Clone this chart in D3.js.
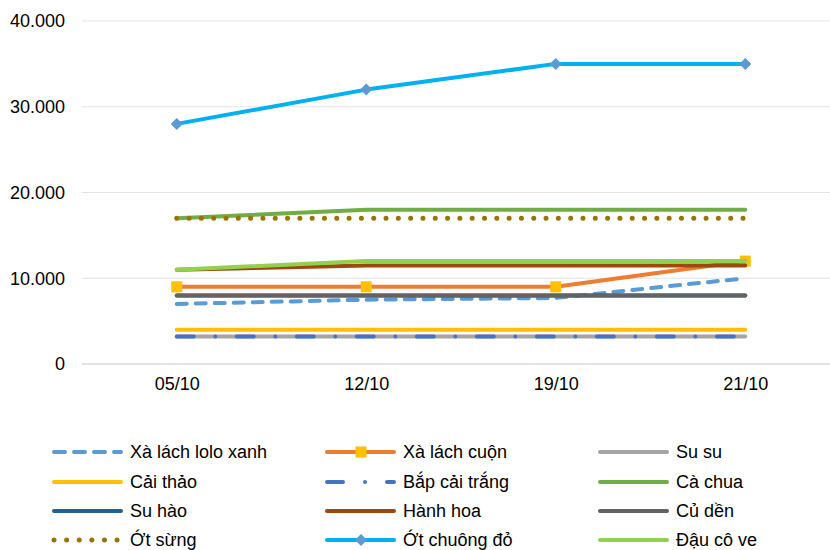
<!DOCTYPE html>
<html>
<head>
<meta charset="utf-8">
<script src="https://cdn.jsdelivr.net/npm/d3@7"></script>
<style>
  html, body { margin: 0; padding: 0; background: #fff; }
  svg { display: block; font-family: "Liberation Sans", Arial, sans-serif; }
</style>
</head>
<body>
<svg id="chart" width="830" height="550"></svg>
<script>
const categories = ["05/10", "12/10", "19/10", "21/10"];
const yTicks = [0, 10000, 20000, 30000, 40000];

const seriesNames = [
  "Xà lách lolo xanh", "Xà lách cuộn", "Su su",
  "Cải thảo", "Bắp cải trắng", "Cà chua",
  "Su hào", "Hành hoa", "Củ dền",
  "Ớt sừng", "Ớt chuông đỏ", "Đậu cô ve"
];
const xaLachLolo   = [7000, 7500, 7700, 10000];
const xaLachCuon   = [9000, 9000, 9000, 12000];
const suSu         = [3200, 3200, 3200, 3200];
const caiThao      = [4000, 4000, 4000, 4000];
const bapCaiTrang  = [3200, 3200, 3200, 3200];
const caChua       = [17000, 18000, 18000, 18000];
const suHao        = [8000, 8000, 8000, 8000];
const hanhHoa      = [11000, 11500, 11500, 11500];
const cuDen        = [8000, 8000, 8000, 8000];
const otSung       = [17000, 17000, 17000, 17000];
const otChuongDo   = [28000, 32000, 35000, 35000];
const dauCoVe      = [11000, 12000, 12000, 12000];

const seriesValues = [xaLachLolo, xaLachCuon, suSu, caiThao, bapCaiTrang, caChua,
                      suHao, hanhHoa, cuDen, otSung, otChuongDo, dauCoVe];

const styles = [
  {color: "#5B9BD5", width: 4, dash: "10,9", legendDash: "11,9"},
  {color: "#ED7D31", width: 4, dash: null, marker: "square", markerColor: "#FFC000"},
  {color: "#A5A5A5", width: 4, dash: null},
  {color: "#FFC000", width: 4, dash: null},
  {color: "#4472C4", width: 4, dash: "17,21.5,0.01,21.5", legendDash: "16,22,0.01,22"},
  {color: "#70AD47", width: 4, dash: null},
  {color: "#255E91", width: 4, dash: null},
  {color: "#9E480E", width: 4, dash: null},
  {color: "#636363", width: 4, dash: null},
  {color: "#997300", width: 5, dash: "0.01,12.3", legendDash: "0.01,12.6"},
  {color: "#00B0F0", width: 4, dash: null, marker: "diamond", markerColor: "#5B9BD5"},
  {color: "#92D050", width: 4, dash: null}
];

const svg = d3.select("#chart");
const x = d3.scalePoint().domain(categories).range([82, 840]).padding(0.5);
const y = d3.scaleLinear().domain([0, 40000]).range([364, 21]);

const loc = d3.formatLocale({decimal: ",", thousands: ".", grouping: [3], currency: ["", ""]});
const fmt = loc.format(",d");

// gridlines
const grid = svg.append("g");
grid.selectAll("line").data(yTicks.filter(d => d !== 0)).join("line")
  .attr("x1", 82).attr("x2", 830)
  .attr("y1", d => y(d)).attr("y2", d => y(d))
  .attr("stroke", "#e3e3e3").attr("stroke-width", 1);
grid.append("line")
  .attr("x1", 82).attr("x2", 830)
  .attr("y1", y(0)).attr("y2", y(0))
  .attr("stroke", "#d9d9d9").attr("stroke-width", 1.5);

// y axis labels
const yAxis = d3.axisLeft(y).tickValues(yTicks).tickFormat(fmt).tickSize(0).tickPadding(0);
const gy = svg.append("g").attr("transform", "translate(65,0)").call(yAxis);
gy.select(".domain").remove();
gy.selectAll("text").attr("font-size", 18).attr("fill", "#000")
  .attr("font-family", "Liberation Sans, Arial, sans-serif");

// x axis labels
const xAxis = d3.axisBottom(x).tickSize(0).tickPadding(0);
const gx = svg.append("g").attr("transform", "translate(0,377)").call(xAxis);
gx.select(".domain").remove();
gx.selectAll("text").attr("font-size", 18).attr("fill", "#000")
  .attr("font-family", "Liberation Sans, Arial, sans-serif");

const line = d3.line().x((d, i) => x(categories[i])).y(d => y(d));

function drawMarker(g, type, cx, cy, color) {
  if (type === "square") {
    g.append("rect").attr("x", cx - 5.5).attr("y", cy - 5.5)
      .attr("width", 11).attr("height", 11).attr("fill", color);
  } else if (type === "diamond") {
    g.append("path").attr("d", `M${cx},${cy-6}L${cx+6},${cy}L${cx},${cy+6}L${cx-6},${cy}Z`)
      .attr("fill", color);
  }
}

seriesValues.forEach((vals, si) => {
  const s = styles[si];
  const g = svg.append("g");
  g.append("path").attr("d", line(vals))
    .attr("fill", "none").attr("stroke", s.color).attr("stroke-width", s.width)
    .attr("stroke-linecap", "round").attr("stroke-linejoin", "round")
    .attr("stroke-dasharray", s.dash);
  if (s.marker) {
    vals.forEach((v, i) => drawMarker(g, s.marker, x(categories[i]), y(v), s.markerColor));
  }
});

// legend
const legCols = [52, 325, 598];
const legRows = [452, 482, 511, 540];
const leg = svg.append("g");
seriesNames.forEach((name, i) => {
  const s = styles[i];
  const cx = legCols[i % 3], cy = legRows[Math.floor(i / 3)];
  const lg = leg.append("g");
  lg.append("line").attr("x1", cx + 2).attr("x2", cx + 69).attr("y1", cy).attr("y2", cy)
    .attr("stroke", s.color).attr("stroke-width", s.width)
    .attr("stroke-linecap", "round").attr("stroke-dasharray", s.legendDash || s.dash);
  if (s.marker) drawMarker(lg, s.marker, cx + 36, cy, s.markerColor);
  lg.append("text").attr("x", cx + 78).attr("y", cy).attr("dy", "0.35em")
    .attr("font-size", 18).attr("fill", "#000").text(name);
});
</script>
</body>
</html>
